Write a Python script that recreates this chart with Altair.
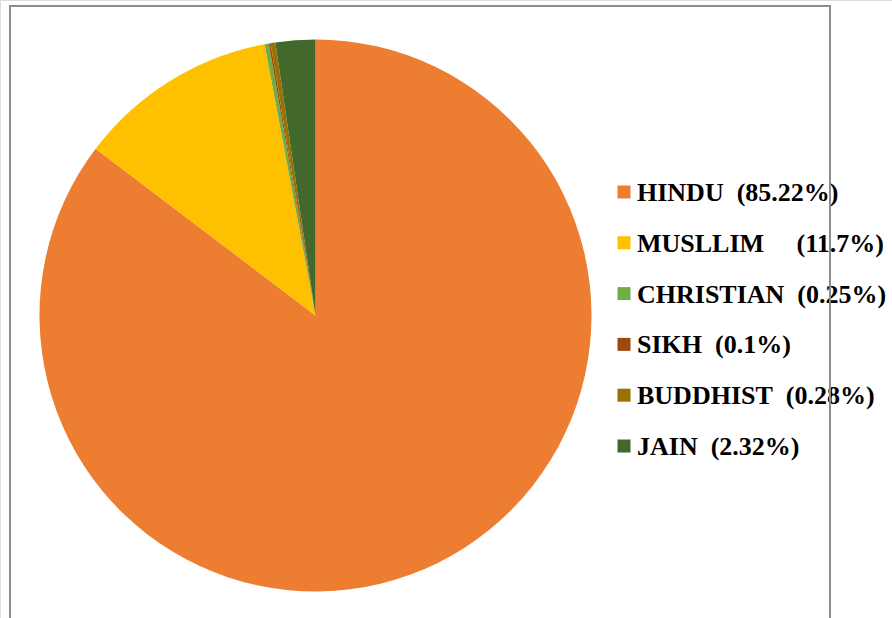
import altair as alt
import pandas as pd

categories = ["HINDU", "MUSLLIM", "CHRISTIAN", "SIKH", "BUDDHIST", "JAIN"]
shares = [85.22, 11.7, 0.25, 0.1, 0.28, 2.32]
legend_labels = [
    "HINDU\u00a0\u00a0(85.22%)",
    "MUSLLIM\u00a0\u00a0\u00a0\u00a0\u00a0(11.7%)",
    "CHRISTIAN\u00a0\u00a0(0.25%)",
    "SIKH\u00a0\u00a0(0.1%)",
    "BUDDHIST\u00a0\u00a0(0.28%)",
    "JAIN\u00a0\u00a0(2.32%)",
]
colors = ["#ED7D31", "#FFC000", "#70AD47", "#9E480E", "#997300", "#43682B"]

df = pd.DataFrame({
    "cat": categories,
    "share": shares,
    "label": legend_labels,
    "idx": list(range(len(categories))),
})

color_scale = alt.Scale(domain=categories, range=colors)

pie = alt.Chart(df).mark_arc(outerRadius=276).encode(
    theta=alt.Theta("share:Q", stack=True),
    color=alt.Color("cat:N", scale=color_scale, legend=None),
    order=alt.Order("idx:Q"),
    x=alt.value(315.5),
    y=alt.value(315.5),
)

leg_y = alt.Y("cat:N", scale=alt.Scale(type="point", domain=categories, range=[192, 446], padding=0), axis=None)

swatch = alt.Chart(df).mark_square(size=169, opacity=1).encode(
    x=alt.value(624),
    y=leg_y,
    color=alt.Color("cat:N", scale=color_scale, legend=None),
)

text = alt.Chart(df).mark_text(
    align="left", baseline="middle", font="Liberation Serif",
    fontWeight="bold", fontSize=26, color="black", dy=1,
).encode(
    x=alt.value(637),
    y=leg_y,
    text="label:N",
)

frame = alt.Chart(df).mark_rect(
    fill=None, stroke="#8c8c8c", strokeWidth=1.5
).encode(
    x=alt.value(10), x2=alt.value(830), y=alt.value(6), y2=alt.value(700),
)

chart = alt.layer(pie, swatch, text, frame).properties(
    width=892, height=618, padding=0, autosize="none",
).resolve_scale(y="independent").configure_view(stroke=None).configure(background="white")

chart.save("out.html", embed_options={"renderer": "svg", "actions": False})
